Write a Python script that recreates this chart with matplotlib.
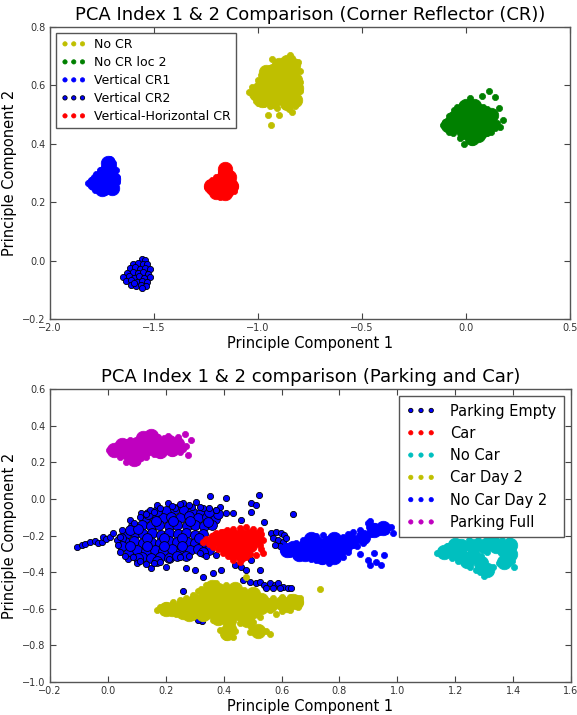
import matplotlib
matplotlib.use("Agg")
import matplotlib.pyplot as plt

plt.rcParams['font.family'] = ['DejaVu Sans']

# ---------------- Top chart data (PC1, PC2) ----------------
top_title = "PCA Index 1 & 2 Comparison (Corner Reflector (CR))"
top_labels = ["No CR", "No CR loc 2", "Vertical CR1", "Vertical CR2", "Vertical-Horizontal CR"]

no_cr_core = [(-0.99, 0.59), (-0.96, 0.62), (-0.96, 0.58), (-0.93, 0.65), (-0.93, 0.61), (-0.93, 0.57),
              (-0.90, 0.64), (-0.90, 0.60), (-0.90, 0.56), (-0.87, 0.66), (-0.87, 0.62), (-0.87, 0.58),
              (-0.84, 0.64), (-0.84, 0.60), (-0.84, 0.56), (-0.82, 0.62),
              (-1.01, 0.575), (-0.98, 0.55), (-0.96, 0.645), (-0.90, 0.67), (-0.86, 0.68), (-0.83, 0.67),
              (-0.815, 0.59), (-0.82, 0.55), (-0.86, 0.54), (-0.93, 0.545)]
no_cr_pts = [(-1.045, 0.578), (-1.03, 0.595), (-1.02, 0.56), (-1.01, 0.545), (-1.0, 0.62), (-0.985, 0.635),
             (-0.97, 0.64), (-0.955, 0.655), (-0.94, 0.66), (-0.935, 0.692), (-0.92, 0.67), (-0.90, 0.675),
             (-0.88, 0.685), (-0.86, 0.69), (-0.845, 0.705), (-0.835, 0.695), (-0.81, 0.68), (-0.80, 0.65),
             (-0.797, 0.61), (-0.80, 0.58), (-0.81, 0.55), (-0.82, 0.53), (-0.835, 0.51), (-0.85, 0.52),
             (-0.87, 0.53), (-0.91, 0.522), (-0.94, 0.53), (-0.97, 0.535), (-1.0, 0.54), (-0.937, 0.464),
             (-0.95, 0.50), (-0.90, 0.50)]

no_cr2_core = [(-0.07, 0.47), (-0.04, 0.50), (-0.04, 0.46), (-0.01, 0.51), (-0.01, 0.47), (-0.01, 0.44),
               (0.02, 0.51), (0.02, 0.47), (0.02, 0.44), (0.05, 0.50), (0.05, 0.46), (0.08, 0.48), (0.09, 0.45),
               (-0.085, 0.465), (-0.06, 0.49), (0.0, 0.53), (0.04, 0.53), (0.07, 0.51), (0.11, 0.47),
               (0.12, 0.50), (0.06, 0.43), (0.03, 0.42)]
no_cr2_pts = [(-0.11, 0.464), (-0.10, 0.475), (-0.09, 0.45), (-0.08, 0.495), (-0.06, 0.515), (-0.043, 0.526),
              (-0.02, 0.535), (0.0, 0.54), (0.019, 0.557), (0.04, 0.54), (0.06, 0.53), (0.077, 0.564),
              (0.08, 0.525), (0.10, 0.52), (0.111, 0.581), (0.12, 0.50), (0.139, 0.56), (0.13, 0.48),
              (0.159, 0.522), (0.15, 0.47), (0.178, 0.481), (0.164, 0.458), (0.14, 0.455), (0.12, 0.44),
              (0.101, 0.437), (0.08, 0.43), (0.06, 0.42), (0.045, 0.415), (0.029, 0.406), (-0.01, 0.40),
              (-0.03, 0.42), (-0.063, 0.437), (-0.08, 0.44)]

vcr1_core = [(-1.77, 0.27), (-1.74, 0.27), (-1.71, 0.27), (-1.74, 0.30), (-1.71, 0.30), (-1.715, 0.32),
             (-1.79, 0.265), (-1.72, 0.335), (-1.695, 0.28), (-1.75, 0.245), (-1.70, 0.25)]
vcr1_pts = [(-1.817, 0.266), (-1.80, 0.275), (-1.80, 0.255), (-1.784, 0.242), (-1.76, 0.24), (-1.736, 0.235),
            (-1.71, 0.24), (-1.688, 0.252), (-1.68, 0.27), (-1.678, 0.286), (-1.685, 0.31), (-1.697, 0.334),
            (-1.705, 0.345), (-1.712, 0.348), (-1.725, 0.335), (-1.74, 0.32), (-1.76, 0.31), (-1.78, 0.295),
            (-1.79, 0.285)]

vcr2_pts = [(-1.56, 0.006), (-1.545, 0.002), (-1.60, -0.012), (-1.577, -0.008), (-1.552, -0.013), (-1.532, -0.01),
            (-1.616, -0.027), (-1.591, -0.022), (-1.566, -0.028), (-1.541, -0.024), (-1.521, -0.03),
            (-1.632, -0.042), (-1.603, -0.038), (-1.578, -0.044), (-1.553, -0.039), (-1.527, -0.045),
            (-1.648, -0.056), (-1.622, -0.053), (-1.596, -0.058), (-1.571, -0.054), (-1.546, -0.06), (-1.52, -0.057),
            (-1.636, -0.071), (-1.61, -0.068), (-1.584, -0.073), (-1.559, -0.069), (-1.535, -0.074),
            (-1.612, -0.084), (-1.587, -0.088), (-1.561, -0.083), (-1.537, -0.087), (-1.556, -0.095), (-1.598, -0.078)]

vhcr_core = [(-1.21, 0.25), (-1.18, 0.25), (-1.15, 0.25), (-1.18, 0.275), (-1.155, 0.28), (-1.16, 0.30),
             (-1.225, 0.255), (-1.16, 0.23), (-1.13, 0.255), (-1.14, 0.285), (-1.16, 0.315), (-1.20, 0.235)]
vhcr_pts = [(-1.245, 0.252), (-1.235, 0.265), (-1.23, 0.24), (-1.21, 0.23), (-1.183, 0.218), (-1.16, 0.222),
            (-1.135, 0.23), (-1.115, 0.24), (-1.111, 0.255), (-1.12, 0.27), (-1.13, 0.285), (-1.135, 0.30),
            (-1.145, 0.315), (-1.159, 0.324), (-1.17, 0.315), (-1.18, 0.30), (-1.20, 0.285), (-1.22, 0.275)]

# ---------------- Bottom chart data ----------------
bot_title = "PCA Index 1 & 2 comparison (Parking and Car)"
bot_labels = ["Parking Empty", "Car", "No Car", "Car Day 2", "No Car Day 2", "Parking Full"]

pempty_core = [(0.20, -0.065), (0.232, -0.058), (0.262, -0.062), (0.29, -0.07), (0.322, -0.075),
               (0.128, -0.105), (0.158, -0.098), (0.19, -0.104), (0.218, -0.097), (0.25, -0.102), (0.279, -0.096),
               (0.31, -0.105), (0.342, -0.099), (0.37, -0.108),
               (0.088, -0.148), (0.118, -0.142), (0.15, -0.15), (0.178, -0.143), (0.212, -0.147), (0.24, -0.141),
               (0.272, -0.149), (0.30, -0.144), (0.332, -0.15), (0.36, -0.142),
               (0.062, -0.192), (0.092, -0.186), (0.122, -0.194), (0.152, -0.188), (0.182, -0.195), (0.21, -0.187),
               (0.242, -0.193), (0.27, -0.188), (0.302, -0.196), (0.33, -0.19),
               (0.058, -0.238), (0.09, -0.232), (0.12, -0.24), (0.148, -0.233), (0.18, -0.239), (0.212, -0.231),
               (0.24, -0.237), (0.272, -0.234), (0.30, -0.241), (0.33, -0.236),
               (0.072, -0.282), (0.102, -0.277), (0.13, -0.285), (0.162, -0.279), (0.192, -0.284), (0.222, -0.276),
               (0.252, -0.283), (0.282, -0.279), (0.312, -0.274), (0.35, -0.28),
               (0.118, -0.318), (0.15, -0.325), (0.18, -0.316), (0.212, -0.322), (0.24, -0.31),
               (0.045, -0.215), (0.05, -0.26), (0.105, -0.325), (0.17, -0.34), (0.27, -0.31), (0.33, -0.29),
               (0.38, -0.085), (0.17, -0.065), (0.35, -0.07), (0.14, -0.08), (0.075, -0.17), (0.105, -0.165),
               (0.165, -0.12), (0.225, -0.12), (0.285, -0.12), (0.345, -0.125), (0.135, -0.215), (0.195, -0.215),
               (0.255, -0.215), (0.315, -0.215), (0.075, -0.255), (0.135, -0.26), (0.195, -0.26), (0.255, -0.26)]
pempty_pts = [(-0.108, -0.265), (-0.091, -0.252), (-0.079, -0.247), (-0.062, -0.234), (-0.045, -0.229),
              (-0.033, -0.24), (-0.022, -0.234), (-0.016, -0.207), (-0.005, -0.221), (0.007, -0.207),
              (0.018, -0.185), (0.030, -0.225),
              (0.076, -0.116), (0.116, -0.076), (0.145, -0.061), (0.168, -0.034), (0.208, -0.025), (0.231, -0.052),
              (0.260, -0.021), (0.306, -0.019), (0.352, 0.015), (0.375, -0.061), (0.409, 0.006), (0.432, -0.079),
              (0.461, -0.116), (0.495, -0.025), (0.513, -0.034), (0.521, 0.021), (0.541, -0.125), (0.495, -0.070),
              (0.639, -0.085), (0.386, -0.043), (0.329, -0.052), (0.289, -0.043), (0.409, -0.079),
              (0.564, -0.189), (0.582, -0.180), (0.599, -0.189), (0.610, -0.198), (0.570, -0.216), (0.587, -0.225),
              (0.605, -0.234), (0.593, -0.258), (0.576, -0.252), (0.616, -0.216),
              (0.44, -0.36), (0.461, -0.371), (0.478, -0.389), (0.495, -0.334), (0.524, -0.389), (0.329, -0.425),
              (0.363, -0.407), (0.392, -0.389), (0.300, -0.389), (0.270, -0.380), (0.20, -0.37), (0.15, -0.38),
              (0.10, -0.35), (0.07, -0.33),
              (0.467, -0.444), (0.490, -0.453), (0.513, -0.462), (0.524, -0.453), (0.541, -0.471), (0.559, -0.462),
              (0.576, -0.471), (0.587, -0.462), (0.605, -0.480), (0.622, -0.484), (0.633, -0.489), (0.593, -0.489),
              (0.547, -0.489), (0.57, -0.484),
              (0.260, -0.502), (0.326, -0.666), (0.31, -0.66),
              (0.09, -0.13), (0.11, -0.098), (0.13, -0.085), (0.16, -0.07), (0.18, -0.052), (0.22, -0.04),
              (0.25, -0.03), (0.28, -0.035), (0.317, -0.043), (0.35, -0.05), (0.375, -0.06),
              (0.041, -0.21), (0.035, -0.25), (0.041, -0.29), (0.05, -0.17), (0.06, -0.31),
              (0.087, -0.316), (0.11, -0.34), (0.133, -0.353), (0.16, -0.35), (0.18, -0.343), (0.21, -0.33),
              (0.248, -0.316), (0.28, -0.31), (0.317, -0.298), (0.34, -0.31), (0.375, -0.307)]

car_core = [(0.37, -0.22), (0.40, -0.20), (0.40, -0.25), (0.43, -0.20), (0.43, -0.25), (0.43, -0.29),
            (0.46, -0.20), (0.46, -0.25), (0.46, -0.30), (0.49, -0.20), (0.49, -0.25), (0.51, -0.21)]
car_pts = [(0.329, -0.234), (0.34, -0.22), (0.35, -0.245), (0.36, -0.20), (0.375, -0.189), (0.39, -0.18),
           (0.41, -0.172), (0.432, -0.167), (0.455, -0.16), (0.478, -0.156), (0.50, -0.162), (0.524, -0.170),
           (0.53, -0.19), (0.536, -0.225), (0.525, -0.25), (0.53, -0.275), (0.536, -0.298), (0.513, -0.307),
           (0.49, -0.30), (0.478, -0.316), (0.465, -0.33), (0.455, -0.343), (0.432, -0.334), (0.415, -0.31),
           (0.398, -0.298), (0.38, -0.275), (0.363, -0.262)]

nocar_core = [(1.18, -0.28), (1.22, -0.26), (1.22, -0.31), (1.26, -0.26), (1.26, -0.31), (1.30, -0.26),
              (1.29, -0.35), (1.34, -0.26), (1.37, -0.28), (1.38, -0.33),
              (1.16, -0.29), (1.20, -0.25), (1.33, -0.24), (1.39, -0.25), (1.39, -0.30), (1.31, -0.39),
              (1.24, -0.34), (1.37, -0.345)]
nocar_pts = [(1.136, -0.294), (1.15, -0.28), (1.156, -0.307), (1.17, -0.26), (1.19, -0.243), (1.21, -0.235),
             (1.248, -0.225), (1.28, -0.222), (1.306, -0.222), (1.33, -0.23), (1.346, -0.198), (1.36, -0.225),
             (1.386, -0.225), (1.398, -0.262), (1.40, -0.30), (1.395, -0.34), (1.403, -0.371), (1.375, -0.353),
             (1.35, -0.35), (1.33, -0.37), (1.32, -0.40), (1.30, -0.422), (1.285, -0.40), (1.271, -0.389),
             (1.25, -0.37), (1.237, -0.353), (1.21, -0.34), (1.19, -0.325), (1.31, -0.29), (1.29, -0.31)]

carday2_core = [(0.22, -0.60), (0.26, -0.58), (0.26, -0.62), (0.30, -0.56), (0.30, -0.61), (0.34, -0.52),
                (0.34, -0.57), (0.34, -0.62), (0.38, -0.50), (0.38, -0.55), (0.38, -0.60), (0.38, -0.65),
                (0.42, -0.51), (0.42, -0.56), (0.42, -0.61), (0.42, -0.66), (0.46, -0.53), (0.46, -0.58),
                (0.46, -0.63), (0.50, -0.56), (0.50, -0.61), (0.53, -0.59), (0.42, -0.71), (0.60, -0.57),
                (0.64, -0.56),
                (0.20, -0.60), (0.36, -0.48), (0.44, -0.49), (0.50, -0.52), (0.53, -0.55), (0.56, -0.58),
                (0.62, -0.58), (0.65, -0.565), (0.48, -0.66), (0.52, -0.72), (0.41, -0.73), (0.33, -0.63),
                (0.28, -0.63)]
carday2_pts = [(0.168, -0.608), (0.18, -0.59), (0.202, -0.58), (0.225, -0.565), (0.248, -0.553), (0.27, -0.54),
               (0.294, -0.526), (0.31, -0.505), (0.32, -0.49), (0.34, -0.471), (0.375, -0.458), (0.409, -0.471),
               (0.444, -0.489), (0.478, -0.425), (0.47, -0.50), (0.501, -0.507), (0.52, -0.53), (0.547, -0.553),
               (0.57, -0.544), (0.60, -0.535), (0.628, -0.535), (0.662, -0.544), (0.665, -0.565), (0.656, -0.589),
               (0.628, -0.608), (0.60, -0.61), (0.582, -0.626), (0.559, -0.608), (0.524, -0.644), (0.501, -0.671),
               (0.495, -0.699), (0.524, -0.735), (0.559, -0.739), (0.545, -0.72), (0.513, -0.726), (0.49, -0.726),
               (0.455, -0.68), (0.44, -0.72), (0.432, -0.753), (0.409, -0.753), (0.40, -0.73), (0.386, -0.717),
               (0.363, -0.662), (0.33, -0.65), (0.294, -0.644), (0.237, -0.626), (0.19, -0.617), (0.734, -0.49)]

nocar2_core = [(0.64, -0.27), (0.68, -0.26), (0.68, -0.30), (0.72, -0.24), (0.72, -0.29), (0.76, -0.24),
               (0.76, -0.29), (0.80, -0.24), (0.80, -0.28), (0.84, -0.23), (0.88, -0.21),
               (0.62, -0.28), (0.70, -0.22), (0.78, -0.22), (0.74, -0.32), (0.78, -0.32), (0.82, -0.26),
               (0.92, -0.17), (0.95, -0.16), (0.66, -0.30)]
nocar2_pts = [(0.605, -0.28), (0.62, -0.26), (0.63, -0.30), (0.65, -0.24), (0.674, -0.225), (0.70, -0.21),
              (0.72, -0.205), (0.743, -0.198), (0.78, -0.20), (0.811, -0.207), (0.83, -0.19), (0.846, -0.18),
              (0.87, -0.17), (0.903, -0.152), (0.92, -0.15), (0.949, -0.143), (0.978, -0.152), (0.984, -0.189),
              (0.96, -0.175), (0.938, -0.18), (0.91, -0.19), (0.898, -0.13), (0.905, -0.12), (0.88, -0.24),
              (0.86, -0.26), (0.846, -0.252), (0.83, -0.29), (0.811, -0.316), (0.79, -0.33), (0.765, -0.352),
              (0.74, -0.34), (0.72, -0.334), (0.70, -0.33), (0.674, -0.316), (0.65, -0.31), (0.898, -0.334),
              (0.926, -0.343), (0.955, -0.307), (0.921, -0.298), (0.944, -0.362), (0.905, -0.36), (0.87, -0.30)]

pfull_core = [(0.04, 0.27), (0.07, 0.25), (0.07, 0.29), (0.10, 0.25), (0.10, 0.30), (0.13, 0.27),
              (0.13, 0.31), (0.16, 0.28), (0.16, 0.32), (0.19, 0.29),
              (0.02, 0.265), (0.05, 0.295), (0.09, 0.22), (0.12, 0.33), (0.15, 0.345), (0.18, 0.26),
              (0.21, 0.31), (0.22, 0.27), (0.24, 0.30)]
pfull_pts = [(0.005, 0.267), (0.015, 0.255), (0.03, 0.294), (0.041, 0.23), (0.05, 0.305), (0.064, 0.203),
             (0.076, 0.321), (0.085, 0.215), (0.099, 0.203), (0.11, 0.34), (0.115, 0.225), (0.13, 0.345),
             (0.133, 0.23), (0.15, 0.358), (0.16, 0.245), (0.174, 0.34), (0.179, 0.239), (0.195, 0.33),
             (0.2, 0.26), (0.208, 0.345), (0.22, 0.248), (0.215, 0.30), (0.23, 0.28), (0.242, 0.34),
             (0.248, 0.258), (0.25, 0.30), (0.265, 0.352), (0.27, 0.29), (0.277, 0.239), (0.288, 0.321),
             (0.26, 0.27)]

top_xticks = [-2.0, -1.5, -1.0, -0.5, 0.0, 0.5]
top_yticks = [-0.2, 0.0, 0.2, 0.4, 0.6, 0.8]
bot_xticks = [-0.2, 0.0, 0.2, 0.4, 0.6, 0.8, 1.0, 1.2, 1.4, 1.6]
bot_yticks = [-1.0, -0.8, -0.6, -0.4, -0.2, 0.0, 0.2, 0.4, 0.6]

# ---------------- Drawing ----------------
S_PT = 20
S_CORE = 110
S_NAVY_CORE = 50


def xs(pts):
    return [p[0] for p in pts]


def ys(pts):
    return [p[1] for p in pts]


def plain_cluster(ax, core, pts, color, label):
    if core:
        ax.scatter(xs(core), ys(core), s=S_CORE, c=color, edgecolors='face', linewidths=0.5)
    ax.scatter(xs(pts), ys(pts), s=S_PT, c=color, edgecolors='face', linewidths=0.5, label=label)


def navy_cluster(ax, core, pts, label):
    if core:
        ax.scatter(xs(core), ys(core), s=S_NAVY_CORE, c='b', edgecolors='k', linewidths=0.6)
    ax.scatter(xs(pts), ys(pts), s=S_PT, c='b', edgecolors='k', linewidths=0.6, label=label)


def style_axes(ax, xticks, yticks):
    ax.set_xlim(xticks[0], xticks[-1])
    ax.set_ylim(yticks[0], yticks[-1])
    ax.set_xticks(xticks)
    ax.set_yticks(yticks)
    ax.set_xticklabels([f"{t:.1f}".replace("-", "\u2212") for t in xticks])
    ax.set_yticklabels([f"{t:.1f}".replace("-", "\u2212") for t in yticks])
    ax.tick_params(direction='in', top=True, right=True, length=4, width=0.8,
                   labelsize=7, colors='#444444', labelcolor='#333333', pad=3)
    for sp in ax.spines.values():
        sp.set_color('#555555')
        sp.set_linewidth(1.0)
    ax.set_xlabel("Principle Component 1", fontsize=10.5, labelpad=2)
    ax.set_ylabel("Principle Component 2", fontsize=10.5, labelpad=4)


fig = plt.figure(figsize=(5.77, 7.15), dpi=100)
fig.patch.set_facecolor('white')

ax1 = fig.add_axes([50 / 577, 1 - 319 / 715, 520 / 577, 292 / 715])
plain_cluster(ax1, no_cr_core, no_cr_pts, 'y', top_labels[0])
plain_cluster(ax1, no_cr2_core, no_cr2_pts, 'g', top_labels[1])
plain_cluster(ax1, vcr1_core, vcr1_pts, 'b', top_labels[2])
navy_cluster(ax1, None, vcr2_pts, top_labels[3])
plain_cluster(ax1, vhcr_core, vhcr_pts, 'r', top_labels[4])
style_axes(ax1, top_xticks, top_yticks)
ax1.set_title(top_title, fontsize=13, pad=5)
leg1 = ax1.legend(loc='upper left', fontsize=9, scatterpoints=3, scatteryoffsets=[0.5],
                  markerscale=0.7, fancybox=False, framealpha=1, edgecolor='#555555',
                  borderaxespad=0.5, handletextpad=0.6, labelspacing=0.4, borderpad=0.4)
leg1.get_frame().set_linewidth(1.0)

ax2 = fig.add_axes([50 / 577, 1 - 682 / 715, 521 / 577, 293 / 715])
navy_cluster(ax2, pempty_core, pempty_pts, bot_labels[0])
plain_cluster(ax2, car_core, car_pts, 'r', bot_labels[1])
plain_cluster(ax2, nocar_core, nocar_pts, 'c', bot_labels[2])
plain_cluster(ax2, carday2_core, carday2_pts, 'y', bot_labels[3])
plain_cluster(ax2, nocar2_core, nocar2_pts, 'b', bot_labels[4])
plain_cluster(ax2, pfull_core, pfull_pts, 'm', bot_labels[5])
style_axes(ax2, bot_xticks, bot_yticks)
ax2.set_title(bot_title, fontsize=13, pad=5)
leg2 = ax2.legend(loc='upper right', fontsize=10.5, scatterpoints=3, scatteryoffsets=[0.5],
                  markerscale=0.7, fancybox=False, framealpha=1, edgecolor='#555555',
                  borderaxespad=0.5, handletextpad=1.0, labelspacing=0.5, borderpad=0.5)
leg2.get_frame().set_linewidth(1.0)

fig.savefig("out.png", dpi=100, facecolor='white')
